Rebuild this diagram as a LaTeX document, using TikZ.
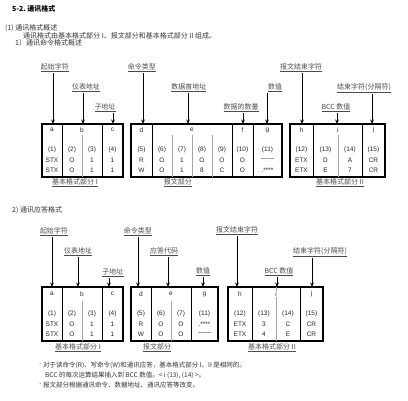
\documentclass[tikz,border=0pt]{standalone}
\usepackage{fontspec}
\setmainfont{Liberation Serif}
\newfontfamily\cjk{Noto Sans CJK SC}
\newfontfamily\sansf{Liberation Sans}
\usetikzlibrary{arrows.meta}
\newcommand{\cellcol}[6]{%
  \node[cell] (#1n) at (#2,#3) {#4};
  \node[cell] (#1r) at (#2,#3+10) {#5};
  \node[cell] (#1s) at (#2,#3+20) {#6};}
\begin{document}
\begin{tikzpicture}[x=1pt,y=-1pt,
  lbl/.style={font=\cjk\fontsize{7}{8}\selectfont, text=black!70, inner sep=1pt},
  txt/.style={font=\cjk\fontsize{7}{8}\selectfont, text=black!80, inner sep=0pt, anchor=west},
  note/.style={font=\cjk\fontsize{6.5}{7}\selectfont, text=black!80, inner sep=0pt, anchor=west},
  cell/.style={font=\sansf\fontsize{6.5}{7}\selectfont, text=black!85, inner sep=0pt},
  arr/.style={-{Stealth[length=4.5pt,width=3.8pt]}, line width=0.8pt},
  outer/.style={line width=1.6pt},
  div/.style={line width=0.7pt},
  inner/.style={line width=0.6pt, black!35}]
\useasboundingbox (0,0) rectangle (408,400);
\fill[white] (0,0) rectangle (408,400);

% ---------- header texts ----------
\node[txt, font=\cjk\bfseries\fontsize{7}{8}\selectfont, text=black] (title) at (12,9) {5-2.\ 通讯格式};
\node[txt] (h1) at (5,28) {(1) 通讯格式概述};
\node[txt] (h2) at (23,36) {通讯格式由基本格式部分 I、报文部分和基本格式部分 II 组成。};
\node[txt] (h3) at (15,43) {1）通讯命令格式概述};
\node[txt] (h4) at (12,210) {2) 通讯应答格式};

% ---------- top diagram boxes ----------
\draw[outer] (42,124) rectangle (123,177);
\draw[div] (62,124) -- (62,177) (102,124) -- (102,177);
\draw[inner] (82,135) -- (82,177);
\draw[outer] (131,124) rectangle (282,177);
\draw[div] (152,124) -- (152,177) (232,124) -- (232,177) (253,124) -- (253,177);
\draw[inner] (172,135) -- (172,177) (192,135) -- (192,177) (212,135) -- (212,177);
\draw[outer] (290,124) rectangle (385,177);
\draw[div] (313,124) -- (313,177) (362,124) -- (362,177);
\draw[inner] (338,135) -- (338,177);

% letters
\node[cell] (ta) at (52,130) {a};
\node[cell] (tb) at (82,130) {b};
\node[cell] (tc) at (112.5,130) {c};
\node[cell] (td) at (141.5,130) {d};
\node[cell] (te) at (192,130) {e};
\node[cell] (tf) at (242.5,130) {f};
\node[cell] (tg) at (267.5,130) {g};
\node[cell] (th) at (301.5,130) {h};
\node[cell] (ti) at (337.5,130) {i};
\node[cell] (tj) at (373.5,130) {j};

\cellcol{t1}{52}{150}{(1)}{STX}{STX}
\cellcol{t2}{72}{150}{(2)}{O}{O}
\cellcol{t3}{92}{150}{(3)}{1}{1}
\cellcol{t4}{112.5}{150}{(4)}{1}{1}
\cellcol{t5}{141.5}{150}{(5)}{R}{W}
\cellcol{t6}{162}{150}{(6)}{O}{O}
\cellcol{t7}{182}{150}{(7)}{1}{1}
\cellcol{t8}{202}{150}{(8)}{O}{8}
\cellcol{t9}{222}{150}{(9)}{O}{C}
\cellcol{t10}{242.5}{150}{(10)}{O}{O}
\cellcol{t11}{267.5}{150}{(11)}{——}{.****}
\cellcol{t12}{301.5}{150}{(12)}{ETX}{ETX}
\cellcol{t13}{325.5}{150}{(13)}{D}{E}
\cellcol{t14}{350}{150}{(14)}{A}{7}
\cellcol{t15}{373.5}{150}{(15)}{CR}{CR}

% captions
\node[lbl] (tcap1) at (75,183) {\underline{基本格式部分 I}};
\node[lbl] (tcap2) at (178,183) {\underline{报文部分}};
\node[lbl] (tcap3) at (340,183) {\underline{基本格式部分 II}};

% labels
\node[lbl] (tla) at (55,68) {\underline{起始字符}};
\node[lbl] (tlb) at (86,88) {\underline{仪表地址}};
\node[lbl] (tlc) at (105,108) {\underline{子地址}};
\node[lbl] (tld) at (142,68) {\underline{命令类型}};
\node[lbl] (tle) at (189,88) {\underline{数据首地址}};
\node[lbl] (tlf) at (241,108) {\underline{数据的数量}};
\node[lbl] (tlg) at (275,88) {\underline{数值}};
\node[lbl] (tlh) at (301,68) {\underline{报文结束字符}};
\node[lbl] (tlj) at (364,88) {\underline{结束字符(分隔符)}};
\node[lbl] (tli) at (336,108) {\underline{BCC 数值}};

\coordinate (tpa) at (53,124);
\coordinate (tpb) at (83,124);
\coordinate (tpc) at (113,124);
\coordinate (tpd) at (143,124);
\coordinate (tpe) at (188,124);
\coordinate (tpf) at (243,124);
\coordinate (tpg) at (267,124);
\coordinate (tph) at (302,124);
\coordinate (tpi) at (337,124);
\coordinate (tpj) at (372,124);
\foreach \k in {a,b,c,d,e,f,g,h,i,j}
  \draw[arr] (tl\k.south -| tp\k) -- (tp\k);

% ---------- lower diagram boxes ----------
\draw[outer] (42,287) rectangle (123,341);
\draw[div] (62,287) -- (62,341) (102,287) -- (102,341);
\draw[inner] (82,301) -- (82,341);
\draw[outer] (131,287) rectangle (218,341);
\draw[div] (151,287) -- (151,341) (191,287) -- (191,341);
\draw[inner] (171,301) -- (171,341);
\draw[outer] (228,287) rectangle (323,341);
\draw[div] (252,287) -- (252,341) (300,287) -- (300,341);
\draw[inner] (276,287) -- (276,341);

\node[cell] (la) at (52,294) {a};
\node[cell] (lb) at (82,294) {b};
\node[cell] (lc) at (112.5,294) {c};
\node[cell] (ld) at (141,294) {d};
\node[cell] (le) at (171,294) {e};
\node[cell] (lg) at (204.5,294) {g};
\node[cell] (lh) at (240,294) {h};
\node[cell, fill=white, inner sep=0.3pt] (li) at (276,294) {i};
\node[cell] (lj) at (311.5,294) {j};

\cellcol{l1}{52}{314}{(1)}{STX}{STX}
\cellcol{l2}{72}{314}{(2)}{O}{O}
\cellcol{l3}{92}{314}{(3)}{1}{1}
\cellcol{l4}{112.5}{314}{(4)}{1}{1}
\cellcol{l5}{141}{314}{(5)}{R}{W}
\cellcol{l6}{161}{314}{(6)}{O}{O}
\cellcol{l7}{181}{314}{(7)}{O}{O}
\cellcol{l11}{204.5}{314}{(11)}{.****}{——}
\cellcol{l12}{240}{314}{(12)}{ETX}{ETX}
\cellcol{l13}{264}{314}{(13)}{3}{4}
\cellcol{l14}{288}{314}{(14)}{C}{E}
\cellcol{l15}{311.5}{314}{(15)}{CR}{CR}

\node[lbl] (lcap1) at (78,347.5) {\underline{基本格式部分 I}};
\node[lbl] (lcap2) at (157,347.5) {\underline{报文部分}};
\node[lbl] (lcap3) at (272,347.5) {\underline{基本格式部分 II}};

\node[lbl] (lla) at (54,232) {\underline{起始字符}};
\node[lbl] (llb) at (78,252) {\underline{仪表地址}};
\node[lbl] (llc) at (113,273) {\underline{子地址}};
\node[lbl] (lld) at (138,232) {\underline{命令类型}};
\node[lbl] (lle) at (164,252) {\underline{应答代码}};
\node[lbl] (llg) at (203,272) {\underline{数值}};
\node[lbl] (llh) at (237,231) {\underline{报文结束字符}};
\node[lbl] (lli) at (279,272) {\underline{BCC 数值}};
\node[lbl] (llj) at (320,252) {\underline{结束字符(分隔符)}};

\coordinate (lpa) at (52,287);
\coordinate (lpb) at (78,287);
\coordinate (lpc) at (109,287);
\coordinate (lpd) at (138,287);
\coordinate (lpe) at (168,287);
\coordinate (lpg) at (203,287);
\coordinate (lph) at (237,287);
\coordinate (lpi) at (277,287);
\coordinate (lpj) at (312,287);
\foreach \k in {a,b,c,d,e,g,h,i,j}
  \draw[arr] (ll\k.south -| lp\k) -- (lp\k);

% ---------- notes ----------
\node[note, text=black!40] (b1) at (37,365) {·};
\node[note] (n1) at (43,365) {对于读命令(R)、写命令(W)和通讯应答，基本格式部分 I、II 是相同的。};
\node[note] (n2) at (45,375) {BCC 的每次运算结果插入到 BCC 数值。< i (13), (14) >。};
\node[note, text=black!40] (b2) at (37,385) {·};
\node[note] (n3) at (43,385) {报文部分根据通讯命令、数据地址、通讯应答等改变。};
\end{tikzpicture}
\end{document}
